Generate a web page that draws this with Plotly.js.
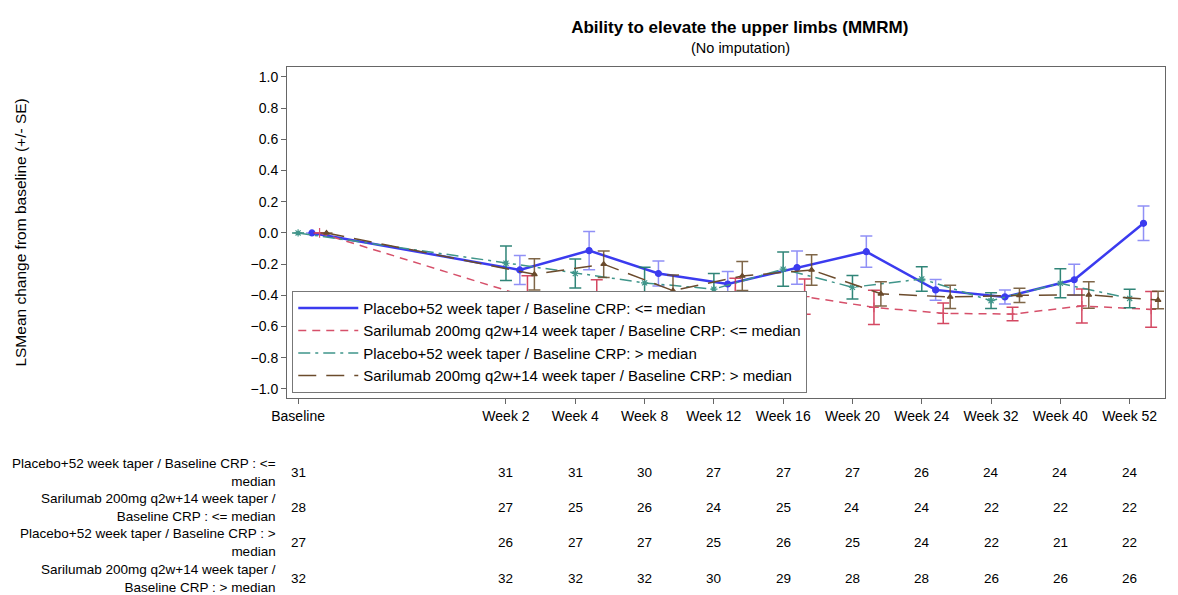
<!DOCTYPE html>
<html>
<head>
<meta charset="utf-8">
<script src="https://cdn.plot.ly/plotly-3.0.1.min.js"></script>
<style>html,body{margin:0;padding:0;background:#fff;}#chart{width:1178px;height:595px;}</style>
</head>
<body>
<div id="chart"></div>
<script>
// ---- Data ----
var visits = ['Baseline','Week 2','Week 4','Week 8','Week 12','Week 16','Week 20','Week 24','Week 32','Week 40','Week 52'];

var seriesNames = [
  'Placebo+52 week taper / Baseline CRP: <= median',
  'Sarilumab 200mg q2w+14 week taper / Baseline CRP: <= median',
  'Placebo+52 week taper / Baseline CRP: > median',
  'Sarilumab 200mg q2w+14 week taper / Baseline CRP: > median'
];

var tableLabels = [
  'Placebo+52 week taper / Baseline CRP : <=<br>median',
  'Sarilumab 200mg q2w+14 week taper /<br>Baseline CRP : <= median',
  'Placebo+52 week taper / Baseline CRP : ><br>median',
  'Sarilumab 200mg q2w+14 week taper /<br>Baseline CRP : > median'
];

var placeboLow    = [0, -0.237, -0.113, -0.26, -0.327, -0.222, -0.12, -0.365, -0.41, -0.30, 0.062];
var placeboLowSE  = [null, 0.093, 0.123, 0.08, 0.08, 0.107, 0.10, 0.066, 0.045, 0.10, 0.111];
var sariLow       = [0, -0.41, -0.436, -0.48, -0.38, -0.408, -0.477, -0.515, -0.52, -0.468, -0.49];
var sariLowSE     = [null, 0.135, 0.136, 0.087, 0.09, 0.113, 0.109, 0.066, 0.043, 0.109, 0.115];
var placeboHigh   = [0, -0.194, -0.26, -0.32, -0.36, -0.232, -0.348, -0.295, -0.434, -0.323, -0.42];
var placeboHighSE = [null, 0.111, 0.093, 0.10, 0.10, 0.11, 0.076, 0.078, 0.05, 0.093, 0.059];
var sariHigh      = [0, -0.265, -0.20, -0.37, -0.276, -0.237, -0.39, -0.41, -0.40, -0.397, -0.43];
var sariHighSE    = [null, 0.10, 0.085, 0.10, 0.093, 0.098, 0.078, 0.075, 0.046, 0.085, 0.056];

var nPlaceboLow  = [31, 31, 31, 30, 27, 27, 27, 26, 24, 24, 24];
var nSariLow     = [28, 27, 25, 26, 24, 25, 24, 24, 22, 22, 22];
var nPlaceboHigh = [27, 26, 27, 27, 25, 26, 25, 24, 22, 21, 22];
var nSariHigh    = [32, 32, 32, 32, 30, 29, 28, 28, 26, 26, 26];

// ---- Build ----
var FONT = 'Liberation Sans, Arial, sans-serif';
// baseline sits apart from post-baseline visits (gap of three slots)
function visitPos(i){ return i === 0 ? 0 : i + 2; }
var basePos = visits.map(function(v,i){ return visitPos(i); });

var styles = [
  {color:'#3b3bef', err:'rgba(70,70,240,0.6)', dash:'solid', width:2.5, symbol:'circle', size:6, offset:0.2},
  {color:'#d6506a', err:'rgba(205,40,70,0.85)', dash:'8px,6px', width:1.5, symbol:'cross-thin-open', size:7, offset:0.31},
  {color:'#3f958a', err:'rgba(25,120,105,0.9)', dash:'12px,5px,3px,5px', width:1.5, symbol:'asterisk-open', size:6, offset:0},
  {color:'#6b4b2c', err:'rgba(105,75,40,0.85)', dash:'18px,10px', width:1.5, symbol:'triangle-up', size:5, offset:0.41}
];
var means = [placeboLow, sariLow, placeboHigh, sariHigh];
var ses = [placeboLowSE, sariLowSE, placeboHighSE, sariHighSE];
var ns = [nPlaceboLow, nSariLow, nPlaceboHigh, nSariHigh];

var traces = [];
means.forEach(function(m, k){
  var s = styles[k];
  traces.push({
    type:'scatter', mode:'lines+markers', showlegend:false,
    x: basePos.map(function(p){ return p + s.offset; }), y: m,
    line:{color:s.color, width:s.width, dash:s.dash},
    marker:{symbol:s.symbol, size:s.size, color:s.color, line:{color:s.color, width:1.2}},
    error_y:{type:'data', array:ses[k], visible:true, color:s.err, thickness:1.5, width:6},
    hoverinfo:'skip'
  });
});
// legend entries (lines only, as in the reference)
means.forEach(function(m, k){
  var s = styles[k];
  traces.push({
    type:'scatter', mode:'lines', x:[null], y:[null], name:seriesNames[k],
    line:{color:s.color, width:s.width, dash:s.dash}, showlegend:true
  });
});

var annotations = [];
annotations.push({
  xref:'paper', yref:'paper', x:-0.304, y:0.5, xanchor:'center', yanchor:'middle',
  text:'LSMean change from baseline (+/- SE)', textangle:-90, showarrow:false,
  font:{family:FONT, size:15.5, color:'#000'}
});
annotations.push({
  xref:'paper', yref:'paper', x:0.517, y:1.057, xanchor:'center', yanchor:'middle',
  text:'(No imputation)', showarrow:false, font:{family:FONT, size:14.5, color:'#000'}
});
var rowY = [-0.2236, -0.332, -0.438, -0.544];
ns.forEach(function(row, k){
  annotations.push({
    xref:'paper', yref:'paper', x:-0.0103, y:rowY[k], xanchor:'right', yanchor:'middle', align:'right',
    text:tableLabels[k], showarrow:false, font:{family:FONT, size:13.5, color:'#000'}
  });
  row.forEach(function(v, i){
    annotations.push({
      xref:'x', yref:'paper', x:basePos[i], y:rowY[k], xanchor:'center', yanchor:'middle',
      text:String(v), showarrow:false, font:{family:FONT, size:13.5, color:'#000'}
    });
  });
});

var layout = {
  width:1178, height:595,
  margin:{l:287, r:13, t:67, b:197},
  paper_bgcolor:'#fff', plot_bgcolor:'#fff',
  font:{family:FONT, color:'#000'},
  title:{text:'<b>Ability to elevate the upper limbs (MMRM)</b>', x:0.628, xref:'container', xanchor:'center',
         y:0.955, yref:'container', yanchor:'middle', font:{family:FONT, size:17, color:'#000'}},
  xaxis:{range:[-0.16, 12.51], tickmode:'array', tickvals:basePos, ticktext:visits,
         ticks:'outside', ticklen:5, tickcolor:'#666', showgrid:false, zeroline:false,
         showline:true, linecolor:'#666', linewidth:1, mirror:true,
         tickfont:{family:FONT, size:14, color:'#000'}},
  yaxis:{range:[-1.058, 1.064], tickvals:[-1,-0.8,-0.6,-0.4,-0.2,0,0.2,0.4,0.6,0.8,1.0], tickformat:'.1f',
         ticks:'outside', ticklen:5, tickcolor:'#666', showgrid:false, zeroline:false,
         showline:true, linecolor:'#666', linewidth:1, mirror:true,
         tickfont:{family:FONT, size:14, color:'#000'}},
  legend:{x:0.006, y:0.016, xanchor:'left', yanchor:'bottom', bgcolor:'#fff', bordercolor:'#777', borderwidth:1,
          font:{family:FONT, size:15, color:'#000'}, itemwidth:60, tracegroupgap:0},
  annotations:annotations,
  showlegend:true
};

Plotly.newPlot('chart', traces, layout, {displayModeBar:false, staticPlot:true});
</script>
</body>
</html>
